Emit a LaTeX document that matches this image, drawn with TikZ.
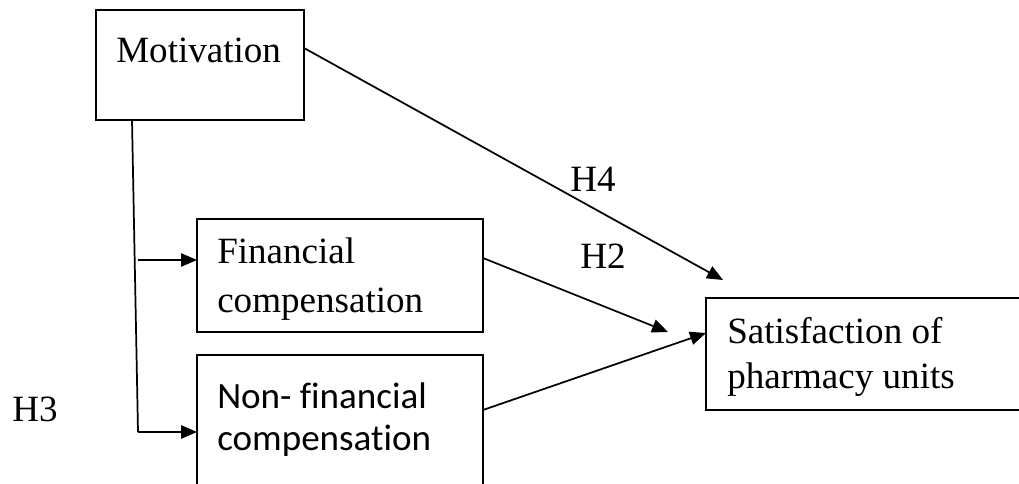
\documentclass[tikz,border=0pt]{standalone}
\usepackage{fontspec}
\setmainfont{Liberation Serif}
\newfontfamily\calibri[Ligatures={NoCommon}]{Carlito}
\usetikzlibrary{arrows.meta,calc}
\begin{document}
\begin{tikzpicture}[x=0.75pt,y=-0.75pt,
  box/.style={draw,line width=1.3pt,inner sep=0pt,outer sep=0pt},
  lbl/.style={anchor=base west,inner sep=0pt,font=\fontsize{27.8}{33}\selectfont},
  conn/.style={line width=1.3pt,-{Triangle[length=12pt,width=10pt]}},
  plain/.style={line width=1.3pt}]
\useasboundingbox (0,0) rectangle (1019,484);
\clip (0,0) rectangle (1019,484);
% boxes
\node[box,minimum width=156pt,minimum height=82.5pt] (mot) at (200,65) {};
\node[box,minimum width=214.5pt,minimum height=84.75pt] (fin) at (340,275.5) {};
\node[box,minimum width=214.5pt,minimum height=120pt] (non) at (340,435) {};
\node[box,minimum width=247.5pt,minimum height=84pt] (sat) at (871,354) {};
% texts
\node[lbl] (tmot) at (116,63) {Motivation};
\node[lbl] (tfin1) at (217,263) {Financial};
\node[lbl] (tfin2) at (217,312) {compensation};
\node[lbl,font=\calibri\fontsize{27.8}{33}\selectfont] (tnon1) at (217,408) {Non- financial};
\node[lbl,font=\calibri\fontsize{27.8}{33}\selectfont] (tnon2) at (217,450) {compensation};
\node[lbl] (tsat1) at (727,343) {Satisfaction of};
\node[lbl] (tsat2) at (727,388) {pharmacy units};
\node[lbl] (h4) at (570,192) {H4};
\node[lbl] (h2) at (580,269) {H2};
\node[lbl] (h3) at (12,421) {H3};
% coordinates
\coordinate (trtop) at ($(mot.south west)+(36,0)$);
\coordinate (trbot) at (138,432);
\coordinate (brfin) at (138,260);
\coordinate (motout) at (304,48);
\coordinate (tip4) at (723,280);
\coordinate (finout) at (483,258);
\coordinate (tip2) at (668,332);
\coordinate (nonout) at (483,410);
\coordinate (satin) at (706,333);
% connectors
\draw[plain] (trtop) -- (trbot);
\draw[conn] (trbot) -- (trbot -| non.west);
\draw[conn] (brfin) -- (brfin -| fin.west);
\draw[conn] (motout) -- (tip4);
\draw[conn] (finout) -- (tip2);
\draw[conn] (nonout) -- (satin);
\end{tikzpicture}
\end{document}
